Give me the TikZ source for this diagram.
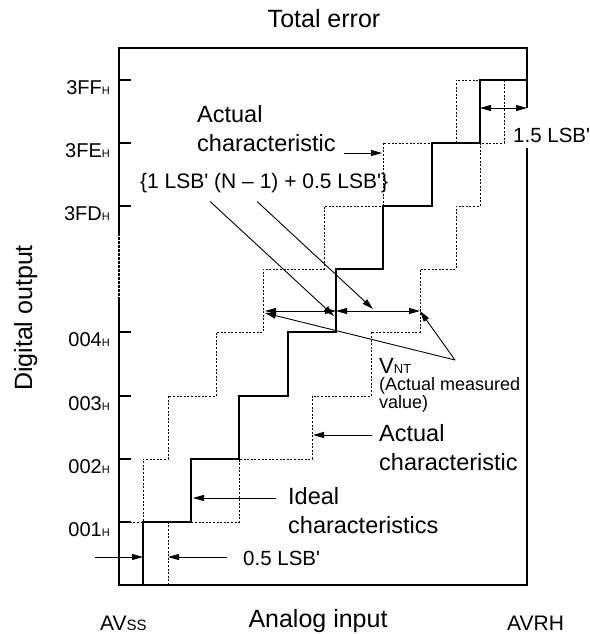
\documentclass[tikz,border=0pt]{standalone}
\usepackage{fontspec}
\setmainfont{Liberation Sans}
\usetikzlibrary{arrows.meta}
\newcommand{\fsz}[2]{\fontsize{#1}{#2}\selectfont}
\newcommand{\hsub}[2][11]{{\fsz{#1}{#1}#2}}
\newcommand{\lsbq}{LSB\textquotesingle}

\begin{document}
\begin{tikzpicture}[x=1pt,y=-1pt,
  frame/.style={line width=2.8pt},
  ideal/.style={line width=2.8pt},
  actual/.style={line width=0.9pt,dash pattern=on 2pt off 1.6pt},
  arr/.style={line width=0.9pt,-{Triangle[length=11pt,width=6pt]}},
  dbl/.style={line width=0.9pt,{Triangle[length=11pt,width=6pt]}-{Triangle[length=11pt,width=6pt]}},
  codelabel/.style={anchor=base east,inner sep=0pt},
  note/.style={anchor=base west,inner sep=0pt,align=left,font=\fsz{23.5}{29}},
  axlabel/.style={anchor=base,inner sep=0pt,font=\fsz{25}{27}}]
  \useasboundingbox (0,0) rectangle (589,634);

  % frame, left side broken
  \draw[frame] (119,233) -- (119,48) -- (527,48) -- (527,108);
  \draw[frame] (527,148) -- (527,585) -- (119,585) -- (119,298);
  \draw[frame,dash pattern=on 2.5pt off 1.5pt] (119,233) -- (119,298);

  % codes on the output axis
  \foreach \y/\code [count=\i] in {80/3FF,143/3FE,206/3FD,332/004,396/003,459/002,522/001} {
    \draw[frame] (119,\y) -- (131,\y);
    \node[codelabel] (code\i) at (110,\y+14) {\fsz{20}{21}\code\hsub{H}};
  }

  % characteristics
  \draw[actual] (119,522) -- (143,522) |- (168,459) |- (216,396) |- (263,332)
    |- (324,269) |- (383,206) |- (456,143) |- (480,80);
  \draw[actual] (168,585) |- (239,522) |- (312,459) |- (371,396) |- (420,332)
    |- (456,269) |- (480,206) |- (504,143) |- (527,80);
  \draw[ideal] (143,585) |- (191,522) |- (239,459) |- (288,396) |- (336,332)
    |- (383,269) |- (432,206) |- (480,143) |- (527,80);

  % texts (base of a two-line node is its last line)
  \node[axlabel] (title) at (324,28) {Total error};
  \node[axlabel] (xlab) at (318,627) {Analog input};
  \node[axlabel,rotate=90] (ylab) at (32,318) {Digital output};
  \node[anchor=base west,inner sep=0pt,font=\fsz{21}{22}] (avss) at (100,630) {AV\hsub[15]{SS}};
  \node[anchor=base west,inner sep=0pt,font=\fsz{21}{22}] (avrh) at (507,630) {AVRH};

  \node[note] (acttop) at (197,151) {Actual\\characteristic};
  \node[note] (actbot) at (379,470) {Actual\\characteristic};
  \node[note] (idl) at (288,533) {Ideal\\characteristics};
  \node[anchor=base west,inner sep=0pt,font=\fsz{21}{22}] (lsb) at (140,188)
    {\{1 \lsbq{} (N \textendash{} 1) + 0.5 \lsbq\}};
  \node[anchor=base west,inner sep=0pt,font=\fsz{20.5}{22}] (half) at (243,565) {0.5 \lsbq};
  \node[anchor=base west,inner sep=0pt,font=\fsz{20.5}{22}] (full) at (513,142) {1.5 \lsbq};
  \node[anchor=base west,inner sep=0pt,font=\fsz{22}{22}] (vnt) at (379,373) {V\hsub[13]{NT}};
  \node[anchor=base west,inner sep=0pt,align=left,font=\fsz{18}{18}] (meas) at (379,408)
    {(Actual measured\\value)};

  % points on the curves
  \coordinate (vl) at (265,311);
  \coordinate (vm) at (336,311);
  \coordinate (vr) at (420,311);
  \coordinate (fs) at (480,108);
  \coordinate (fe) at (527,108);
  \coordinate (apex) at (455,360);
  \coordinate (pa) at (334,316);
  \coordinate (pb) at (373,309);
  \coordinate (at) at (382,153);
  \coordinate (ab) at (313,435);
  \coordinate (ib) at (193,498);
  \coordinate (hb) at (168,557);
  \coordinate (ha) at (143,557);
  \coordinate (hs) at (95,557);

  % arrows
  \draw[dbl] (vl) -- (vm);
  \draw[dbl] (vm) -- (vr);
  \draw[dbl] (fs) -- (fe);
  \draw[arr] (apex) -- ([yshift=-2pt]vl);
  \draw[arr] (apex) -- (vr);
  \draw[arr] ([xshift=-54pt,yshift=-9pt]lsb.south) -- (pa);
  \draw[arr] ([xshift=-7pt,yshift=-9pt]lsb.south) -- (pb);
  \draw[arr] ([xshift=8pt]at -| acttop.east) -- (at);
  \draw[arr] ([xshift=-7pt]ab -| actbot.west) -- (ab);
  \draw[arr] ([xshift=-12pt]ib -| idl.west) -- (ib);
  \draw[arr] ([xshift=-16pt]hb -| half.west) -- (hb);
  \draw[arr] (hs) -- (ha);
\end{tikzpicture}
\end{document}
